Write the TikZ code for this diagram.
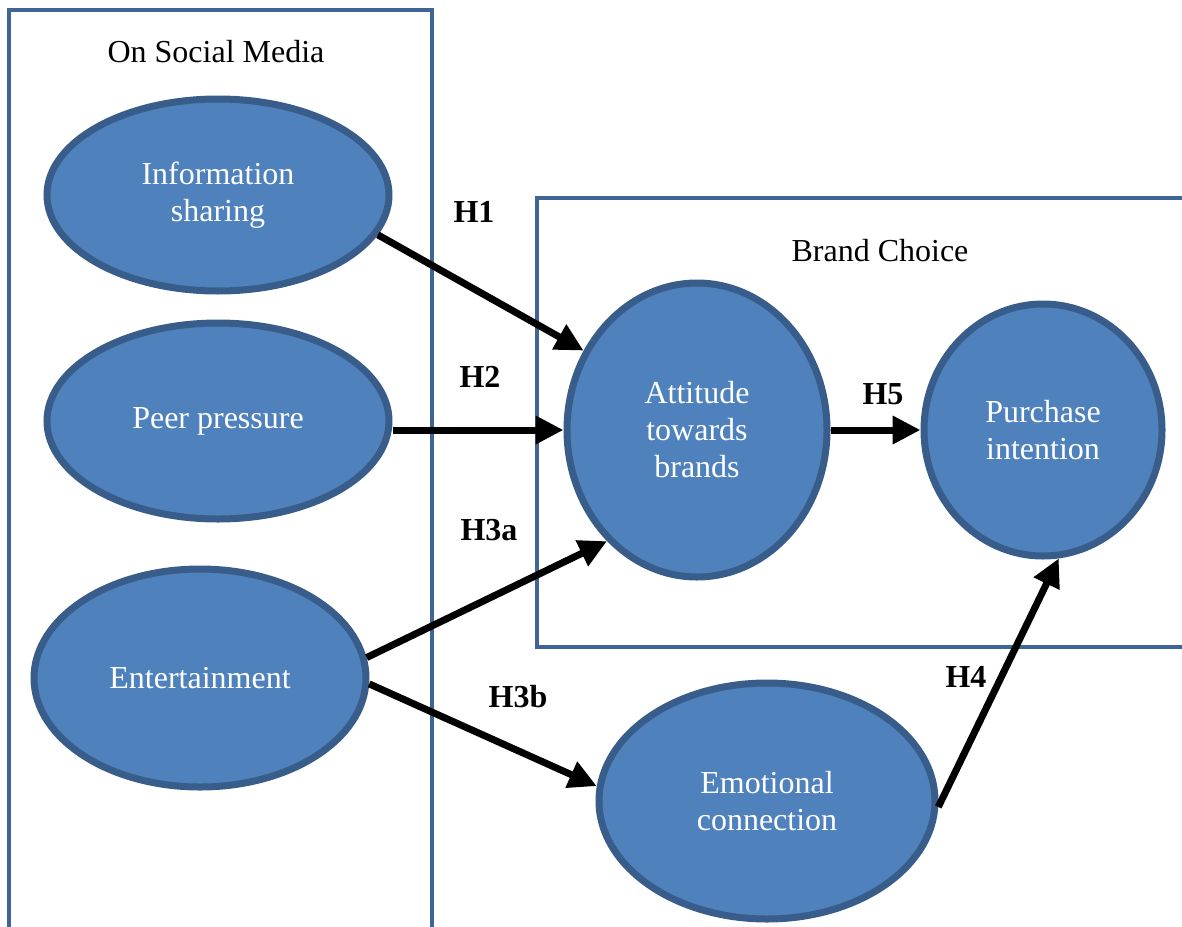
\documentclass[tikz,border=0pt]{standalone}
\usepackage{fontspec}
\setmainfont{Liberation Serif}
\usetikzlibrary{arrows.meta, positioning, shapes.geometric}
\definecolor{cLat}{HTML}{4F81BD}
\definecolor{cLatB}{HTML}{385D8A}
\definecolor{cBox}{HTML}{3F6595}

\begin{document}
\begin{tikzpicture}[x=0.5pt, y=-0.5pt,
    lat/.style={ellipse, fill=cLat, draw=cLatB, line width=3.5pt, inner sep=0pt,
                align=center, text=white, font=\fontsize{16}{18.5}\selectfont},
    grp/.style={draw=cBox, line width=2.25pt},
    ttl/.style={font=\fontsize{16}{18.5}\selectfont},
    hyp/.style={font=\fontsize{16}{18.5}\selectfont\bfseries},
    ar/.style={-{Triangle[length=14pt,width=13.5pt]}, line width=3.5pt},
]
\clip (0,0) rectangle (1182,926);

% === GROUP BOXES ===
\draw[grp] (9,10) rectangle (432,960);
\draw[grp] (537,198) rectangle (1200,647);
\node[ttl] (tsm) at (216,52) {On Social Media};
\node[ttl] (tbc) at (880,251) {Brand Choice};

% === SOCIAL MEDIA FACTORS ===
\node[lat, minimum width=171pt, minimum height=96pt]  (info) at (218,195) {Information\\sharing};
\node[lat, minimum width=171pt, minimum height=98pt]  (peer) at (218,421) {Peer pressure};
\node[lat, minimum width=166pt, minimum height=109pt] (ent)  at (200,678) {Entertainment};

% === BRAND CHOICE + MEDIATOR ===
\node[lat, minimum width=130pt, minimum height=147pt] (att) at (697,430) {Attitude\\towards\\brands};
\node[lat, minimum width=119pt, minimum height=126pt] (pur) at (1043,430) {Purchase\\intention};
\node[lat, minimum width=168pt, minimum height=118pt] (emo) at (767,801) {Emotional\\connection};

% === HYPOTHESES ===
\draw[ar] (info.-14) -- (att.145);
\draw[ar] (peer.east |- att.west) -- (att.west);
\draw[ar] (ent.7) -- (att.231);
\draw[ar] (ent.-2) -- (emo.175);
\draw[ar] (att.east) -- (pur.west);
\draw[ar] (emo.-2) -- (pur.-83);

\node[hyp] (h1)  at (474,212) {H1};
\node[hyp] (h2)  at (480,377) {H2};
\node[hyp] (h3a) at (489,530) {H3a};
\node[hyp] (h3b) at (518,697) {H3b};
\node[hyp] (h4)  at (966,677) {H4};
\node[hyp] (h5)  at (883,394) {H5};

\end{tikzpicture}
\end{document}
